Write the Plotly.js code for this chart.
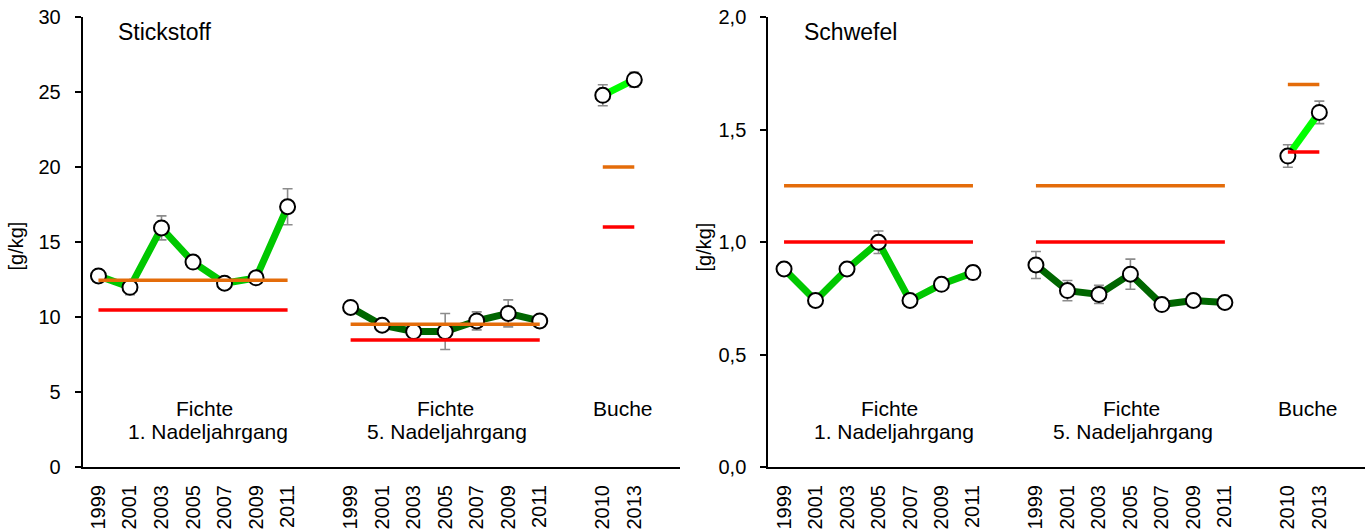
<!DOCTYPE html>
<html>
<head>
<meta charset="utf-8">
<script src="https://cdn.plot.ly/plotly-3.0.1.min.js"></script>
<style>html,body{margin:0;padding:0;background:#fff;}#chart{width:1365px;height:530px;}</style>
</head>
<body>
<div id="chart"></div>
<script>
// ---- categories / tick labels ----
const yearsFichte = ['1999','2001','2003','2005','2007','2009','2011'];
const yearsBuche = ['2010','2013'];
const groupLabels = ['Fichte', '1. Nadeljahrgang', 'Fichte', '5. Nadeljahrgang', 'Buche'];
const panelTitles = ['Stickstoff', 'Schwefel'];
const unitLabel = '[g/kg]';

// ---- Stickstoff (N) ----
const N_F1 = [12.74, 11.98, 15.94, 13.66, 12.25, 12.61, 17.35];
const N_F1_err = [0.2, 0.5, 0.8, 0.25, 0.25, 0.25, 1.2];
const N_F5 = [10.64, 9.45, 9.03, 9.03, 9.74, 10.24, 9.74];
const N_F5_err = [0.2, 0.2, 0.2, 1.2, 0.6, 0.9, 0.2];
const N_Bu = [24.78, 25.82];
const N_Bu_err = [0.7, 0.5];
const N_F1_upper = 12.45, N_F1_lower = 10.46;
const N_F5_upper = 9.52,  N_F5_lower = 8.46;
const N_Bu_upper = 20.0,  N_Bu_lower = 16.0;

// ---- Schwefel (S) ----
const S_F1 = [0.880, 0.740, 0.880, 0.999, 0.740, 0.812, 0.864];
const S_F1_err = [0.02, 0.02, 0.02, 0.05, 0.02, 0.02, 0.03];
const S_F5 = [0.898, 0.784, 0.767, 0.857, 0.722, 0.740, 0.731];
const S_F5_err = [0.06, 0.045, 0.04, 0.067, 0.02, 0.02, 0.02];
const S_Bu = [1.382, 1.576];
const S_Bu_err = [0.05, 0.05];
const S_F1_upper = 1.25, S_F1_lower = 1.0;
const S_F5_upper = 1.25, S_F5_lower = 1.0;
const S_Bu_upper = 1.70, S_Bu_lower = 1.40;

// ---- category slot positions (gap slot between groups) ----
const posF1 = yearsFichte.map((_, i) => i);
const posF5 = yearsFichte.map((_, i) => i + 8);
const posBu = yearsBuche.map((_, i) => i + 16);
const tickVals = posF1.concat(posF5, posBu);
const tickText = yearsFichte.concat(yearsFichte, yearsBuche);

const C_F1 = '#00C800', C_F5 = '#006600', C_BU = '#00FF00';
const C_ORANGE = '#E46C0A', C_RED = '#FF0000';
const FONT = '"Liberation Sans", Arial, sans-serif';

function series(x, y, err, color, xa, ya) {
  return {
    x: x, y: y, xaxis: xa, yaxis: ya, type: 'scatter', mode: 'lines+markers',
    line: {color: color, width: 7},
    marker: {symbol: 'circle', size: 15, color: '#ffffff', line: {color: '#000000', width: 2}},
    error_y: {type: 'data', array: err, visible: true, color: '#8c8c8c', thickness: 1.6, width: 5},
    hoverinfo: 'skip', showlegend: false
  };
}
function refLine(pos, val, color, xa, ya) {
  return {
    x: [pos[0], pos[pos.length - 1]], y: [val, val], xaxis: xa, yaxis: ya,
    type: 'scatter', mode: 'lines', line: {color: color, width: 3.5},
    hoverinfo: 'skip', showlegend: false
  };
}

const traces = [
  series(posF1, N_F1, N_F1_err, C_F1, 'x', 'y'),
  series(posF5, N_F5, N_F5_err, C_F5, 'x', 'y'),
  series(posBu, N_Bu, N_Bu_err, C_BU, 'x', 'y'),
  series(posF1, S_F1, S_F1_err, C_F1, 'x2', 'y2'),
  series(posF5, S_F5, S_F5_err, C_F5, 'x2', 'y2'),
  series(posBu, S_Bu, S_Bu_err, C_BU, 'x2', 'y2'),
  refLine(posF1, N_F1_lower, C_RED, 'x', 'y'),
  refLine(posF1, N_F1_upper, C_ORANGE, 'x', 'y'),
  refLine(posF5, N_F5_lower, C_RED, 'x', 'y'),
  refLine(posF5, N_F5_upper, C_ORANGE, 'x', 'y'),
  refLine(posBu, N_Bu_lower, C_RED, 'x', 'y'),
  refLine(posBu, N_Bu_upper, C_ORANGE, 'x', 'y'),
  refLine(posF1, S_F1_lower, C_RED, 'x2', 'y2'),
  refLine(posF1, S_F1_upper, C_ORANGE, 'x2', 'y2'),
  refLine(posF5, S_F5_lower, C_RED, 'x2', 'y2'),
  refLine(posF5, S_F5_upper, C_ORANGE, 'x2', 'y2'),
  refLine(posBu, S_Bu_lower, C_RED, 'x2', 'y2'),
  refLine(posBu, S_Bu_upper, C_ORANGE, 'x2', 'y2')
];

function xAxis(domain, anchor) {
  return {
    domain: domain, anchor: anchor, range: [-0.5, 18.45],
    tickmode: 'array', tickvals: tickVals, ticktext: tickText, tickangle: -90,
    ticks: '', ticklabelstandoff: 8,
    showline: true, linecolor: '#000', linewidth: 2, showgrid: false, zeroline: false,
    tickfont: {family: FONT, size: 20, color: '#000'}, fixedrange: true
  };
}
function yAxis(range, dtick, fmt, anchor) {
  return {
    domain: [0, 1], anchor: anchor, range: range, tickmode: 'linear', tick0: 0, dtick: dtick,
    tickformat: fmt, ticks: 'outside', ticklen: 6, tickwidth: 2, tickcolor: '#000',
    ticklabelstandoff: 10,
    showline: true, linecolor: '#000', linewidth: 2, showgrid: false, zeroline: false,
    tickfont: {family: FONT, size: 20, color: '#000'}, fixedrange: true
  };
}

const annFont = {family: FONT, size: 21, color: '#000'};
function ann(text, x, y, xref, opts) {
  return Object.assign({text: text, x: x, y: y, xref: xref, yref: 'paper', showarrow: false,
    font: annFont, xanchor: 'center', yanchor: 'middle'}, opts || {});
}
const annotations = [];
[['x', 'x'], ['x2', 'x2']].forEach(([xr], k) => {
  annotations.push(ann(groupLabels[0], 3.35, 0.131, xr));
  annotations.push(ann(groupLabels[1], 3.48, 0.078, xr));
  annotations.push(ann(groupLabels[2], 11.02, 0.131, xr));
  annotations.push(ann(groupLabels[3], 11.07, 0.078, xr));
  annotations.push(ann(groupLabels[4], 16.64, 0.131, xr));
  annotations.push(ann(panelTitles[k], 0.57, 0.966, xr,
    {xanchor: 'left', font: {family: FONT, size: 23, color: '#000'}}));
});
annotations.push({text: unitLabel, x: 15 / 1365, y: 0.49, xref: 'paper', yref: 'paper', showarrow: false,
  textangle: -90, font: {family: FONT, size: 20, color: '#000'}, xanchor: 'center', yanchor: 'middle'});
annotations.push({text: unitLabel, x: 703 / 1365, y: 0.49, xref: 'paper', yref: 'paper', showarrow: false,
  textangle: -90, font: {family: FONT, size: 20, color: '#000'}, xanchor: 'center', yanchor: 'middle'});

const layout = {
  width: 1365, height: 530,
  margin: {l: 0, r: 0, t: 17, b: 63, pad: 0},
  paper_bgcolor: '#fff', plot_bgcolor: '#fff',
  separators: ',.',
  font: {family: FONT, color: '#000'},
  showlegend: false,
  xaxis: xAxis([82.7 / 1365, 680 / 1365], 'y'),
  yaxis: yAxis([0, 30], 5, 'd', 'x'),
  xaxis2: xAxis([768.3 / 1365, 1], 'y2'),
  yaxis2: yAxis([0, 2], 0.5, '.1f', 'x2'),
  annotations: annotations
};

Plotly.newPlot('chart', traces, layout, {staticPlot: true, displayModeBar: false});
</script>
</body>
</html>
